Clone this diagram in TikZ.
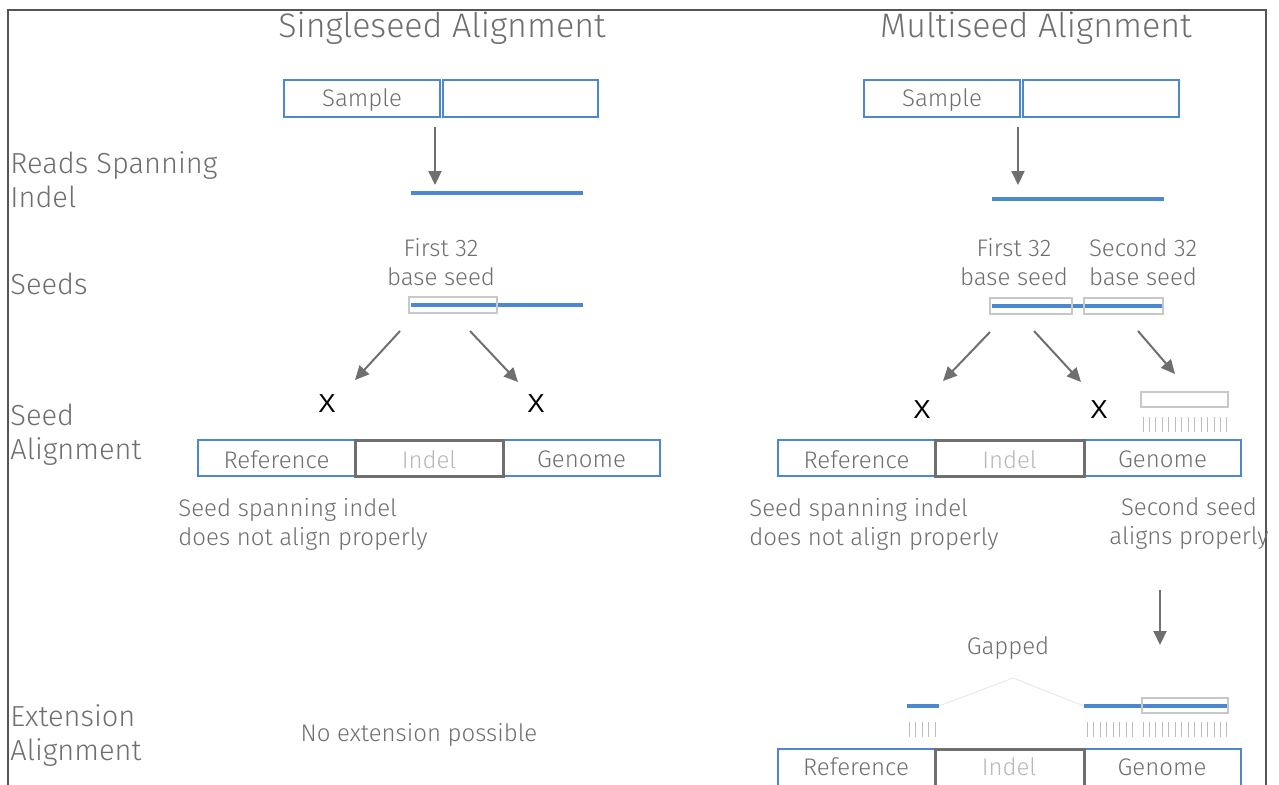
\documentclass[tikz,border=0pt]{standalone}
\usepackage{fontspec}
\setmainfont{Fira Sans}[UprightFont=* Light]
\newfontfamily\xfont{Liberation Sans}
\usetikzlibrary{arrows.meta}
\definecolor{seqblue}{HTML}{4A89D0}
\definecolor{txtgray}{HTML}{6E6E6E}
\definecolor{arrgray}{HTML}{6F6F6F}
\definecolor{seedgray}{HTML}{C8C8C8}
\definecolor{tickgray}{HTML}{BDBDBD}
\definecolor{indeltxt}{HTML}{B8B8B8}
\definecolor{framegray}{HTML}{555555}
\begin{document}
\begin{tikzpicture}[x=0.5pt,y=-0.5pt,
        every node/.style={text=txtgray,inner sep=0pt,font=\fontsize{12}{14.5}\selectfont},
        title/.style={font=\fontsize{17}{20}\selectfont},
        rowlabel/.style={anchor=west,align=left,font=\fontsize{14.5}{17}\selectfont},
        boxlabel/.style={yshift=-0.8pt},
        bluebox/.style={draw=seqblue,line width=1pt},
        indelbox/.style={draw=arrgray,line width=1.5pt},
        seedbox/.style={draw=seedgray,line width=0.6pt},
        readline/.style={draw=seqblue,line width=2pt},
        arr/.style={draw=arrgray,line width=1pt,-{Triangle[length=7pt,width=6.5pt]}},
        tickmark/.style={draw=tickgray,line width=0.5pt},
        cross/.style={text=black,font=\xfont\fontsize{13}{15}\selectfont}]
    \useasboundingbox (0,0) rectangle (1279,784);
    \draw[framegray,line width=1pt] (8,790) -- (8,10) -- (1266,10) -- (1266,790);
    % row labels
    \node[rowlabel] (lreads) at (10,180) {Reads Spanning\\Indel};
    \node[rowlabel] (lseeds) at (10,284) {Seeds};
    \node[rowlabel] (lalign) at (10,435) {Seed\\Alignment};
    \node[rowlabel] (lext) at (10,736) {Extension\\Alignment};
    % singleseed
    \node[title] (titleL) at (442,28) {Singleseed Alignment};
    \draw[bluebox] (284,80) rectangle (440,117) node[midway,boxlabel] (sampleL) {Sample};
    \draw[bluebox] (443,80) rectangle (598,117);
    \coordinate (sL) at (435,127);
    \coordinate (rL) at (435,185);
    \draw[arr] (sL) -- (rL);
    \draw[readline] (411,193) -- (583,193);
    \node[align=center] (firstL) at (441,262) {First 32\\base seed};
    \draw[readline] (411,305) -- (583,305);
    \draw[seedbox] (409,297) rectangle (497,313);
    \coordinate (aL1) at (400,331);
    \coordinate (bL1) at (355,380);
    \coordinate (aL2) at (470,331);
    \coordinate (bL2) at (518,382);
    \draw[arr] (aL1) -- (bL1);
    \draw[arr] (aL2) -- (bL2);
    \node[cross] (xL1) at (327,404) {X};
    \node[cross] (xL2) at (536,404) {X};
    \draw[bluebox] (198,440) rectangle (355,476) node[midway,boxlabel] (refL) {Reference};
    \draw[bluebox] (503,440) rectangle (660,476) node[midway,boxlabel] (genL) {Genome};
    \draw[indelbox] (355,440) rectangle (503,476) node[midway,boxlabel,text=indeltxt] (indL) {Indel};
    \node[anchor=west,align=left] (noteL) at (178,524) {Seed spanning indel\\does not align properly};
    \node (noext) at (419,735) {No extension possible};
    % multiseed
    \node[title] (titleR) at (1036,28) {Multiseed Alignment};
    \draw[bluebox] (864,80) rectangle (1020,117) node[midway,boxlabel] (sampleR) {Sample};
    \draw[bluebox] (1023,80) rectangle (1179,117);
    \coordinate (sR) at (1018,127);
    \coordinate (rR) at (1018,185);
    \draw[arr] (sR) -- (rR);
    \draw[readline] (992,199) -- (1164,199);
    \node[align=center] (firstR) at (1014,262) {First 32\\base seed};
    \node[align=center] (secondR) at (1143,262) {Second 32\\base seed};
    \draw[readline] (992,306) -- (1163,306);
    \draw[seedbox] (990,298) rectangle (1072,314);
    \draw[seedbox] (1084,298) rectangle (1163,314);
    \coordinate (aR1) at (990,332);
    \coordinate (bR1) at (943,381);
    \coordinate (aR2) at (1034,331);
    \coordinate (bR2) at (1081,382);
    \coordinate (aR3) at (1138,331);
    \coordinate (bR3) at (1175,374);
    \draw[arr] (aR1) -- (bR1);
    \draw[arr] (aR2) -- (bR2);
    \draw[arr] (aR3) -- (bR3);
    \node[cross] (xR1) at (922,410) {X};
    \node[cross] (xR2) at (1099,410) {X};
    \draw[seedbox] (1141,392) rectangle (1228,407);
    \foreach \i in {0,...,13}{
        \draw[tickmark] (1143+\i*6.46,417) -- ++(0,15);
    }
    \draw[bluebox] (778,440) rectangle (935,476) node[midway,boxlabel] (refR) {Reference};
    \draw[bluebox] (1084,440) rectangle (1241,476) node[midway,boxlabel] (genR) {Genome};
    \draw[indelbox] (935,440) rectangle (1084,476) node[midway,boxlabel,text=indeltxt] (indR) {Indel};
    \node[anchor=west,align=left] (noteR1) at (749,524) {Seed spanning indel\\does not align properly};
    \node[align=center] (noteR2) at (1189,524) {Second seed\\aligns properly};
    \coordinate (eA) at (1160,590);
    \coordinate (eB) at (1160,645);
    \draw[arr] (eA) -- (eB);
    \node (gapped) at (1008,648) {Gapped};
    \draw[black!10,line width=0.4pt] (939,706) -- (1013,678) -- (1084,706);
    \draw[readline] (907,706) -- (939,706);
    \draw[readline] (1084,706) -- (1228,706);
    \draw[seedbox] (1142,698) rectangle (1228,713);
    \foreach \i in {0,...,4}{
        \draw[tickmark] (909+\i*6.5,722) -- ++(0,15);
    }
    \foreach \i in {0,...,7}{
        \draw[tickmark] (1087+\i*6.5,722) -- ++(0,15);
    }
    \foreach \i in {0,...,13}{
        \draw[tickmark] (1143+\i*6.46,722) -- ++(0,15);
    }
    \draw[bluebox] (778,749) rectangle (935,792);
    \draw[bluebox] (1084,749) rectangle (1241,792);
    \draw[indelbox] (935,749) rectangle (1084,792);
    \node (refE) at (856,767) {Reference};
    \node[text=indeltxt] (indE) at (1009,767) {Indel};
    \node (genE) at (1162,767) {Genome};
\end{tikzpicture}
\end{document}
